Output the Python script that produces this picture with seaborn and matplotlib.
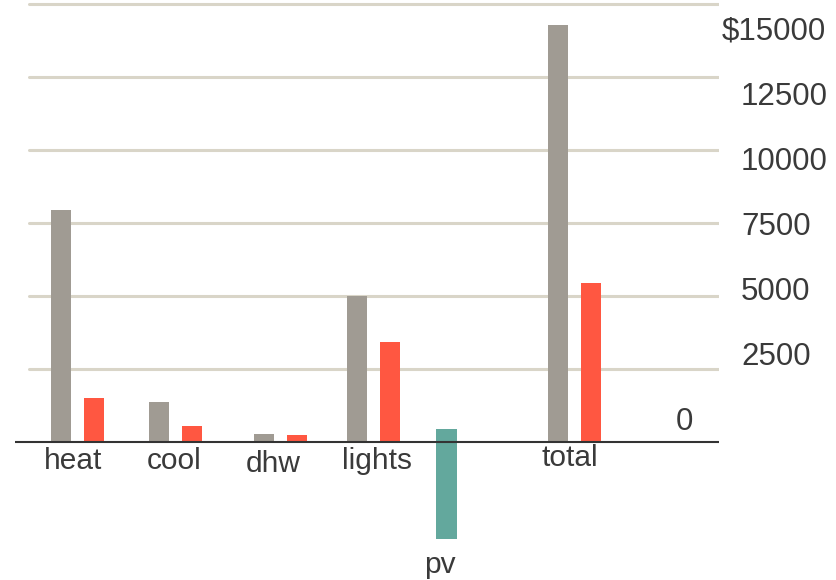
import numpy as np
import pandas as pd
import matplotlib
matplotlib.use("Agg")
import matplotlib.pyplot as plt
import seaborn as sns
from matplotlib.transforms import blended_transform_factory

# ---- data ----
categories = ["heat", "cool", "dhw", "lights", "total"]
baseline_cost = [7950, 1370, 275, 5000, 14280]
proposed_cost = [1500, 550, 240, 3425, 5455]
pv_label = "pv"
pv_top = 445
pv_bottom = -3320
grid_values = [2500, 5000, 7500, 10000, 12500, 15000]
tick_values = [0, 2500, 5000, 7500, 10000, 12500, 15000]
tick_labels = ["0", "2500", "5000", "7500", "10000", "12500", "$15000"]

# ---- layout (x in units of ~100 px) ----
group_x = [0.775, 1.755, 2.805, 3.735, 5.745]
pv_x = 4.465
offset = 0.165
bar_w = 0.20
label_x = [0.73, 1.745, 2.73, 3.77, 5.70]
label_base_px = [469, 469, 472, 469, 466]
pv_label_x = 4.40
pv_label_base_px = 573

GREY = "#a09b93"
RED = "#ff5741"
TEAL = "#63a89d"
GRID = "#d9d5c8"
TEXT = "#3a3a3a"

sns.set_theme(style="white")
plt.rcParams["font.family"] = ["Liberation Sans", "DejaVu Sans"]

W, H = 837, 580
fig = plt.figure(figsize=(W / 100, H / 100), dpi=100)
ax = fig.add_axes([15 / W, 0, 704 / W, 1])

# main scale: 0 at px 442, 2500 per 73 px
ppu = 73 / 2500
ax.set_ylim(-(H - 442) / ppu, 442 / ppu)
ax.set_xlim(0.15, 7.19)

df = pd.DataFrame({
    "x": [g - offset for g in group_x] + [g + offset for g in group_x],
    "value": baseline_cost + proposed_cost,
    "series": ["baseline"] * len(categories) + ["proposed"] * len(categories),
})
native = np.diff(np.unique(df["x"])).min()
sns.barplot(data=df, x="x", y="value", hue="series", orient="x",
            palette={"baseline": GREY, "proposed": RED},
            native_scale=True, dodge=False, width=bar_w / native,
            saturation=1, errorbar=None, legend=False, linewidth=0, ax=ax)

pv_df = pd.DataFrame({"x": [pv_x], "value": [pv_bottom - pv_top]})
n_before = len(ax.patches)
sns.barplot(data=pv_df, x="x", y="value", orient="x", color=TEAL,
            native_scale=True, width=0.21, saturation=1, errorbar=None,
            linewidth=0, ax=ax)
for p in ax.patches[n_before:]:
    p.set_y(pv_top)

ax.set_xlim(0.15, 7.19)
ax.set_ylim(-(H - 442) / ppu, 442 / ppu)

# gridlines and baseline
for v in grid_values:
    ax.axhline(v, xmin=(29 - 15) / 704, xmax=1, color=GRID, lw=2.2, zorder=0)
ax.axhline(0, xmin=0, xmax=1, color="#333333", lw=1.5, zorder=3)

for s in ax.spines.values():
    s.set_visible(False)
ax.set_xticks([])
ax.set_yticks([])
ax.set_xlabel("")
ax.set_ylabel("")
ax.patch.set_alpha(0)

# category labels
tr = blended_transform_factory(ax.transData, fig.transFigure)
for lx, lb, name in zip(label_x, label_base_px, categories):
    ax.text(lx, 1 - lb / H, name, transform=tr, ha="center", va="baseline",
            fontsize=21.5, color=TEXT)
ax.text(pv_label_x, 1 - pv_label_base_px / H, pv_label, transform=tr,
        ha="center", va="baseline", fontsize=21.5, color=TEXT)

# value labels on their own scale (0 at px 422, 15000 at px 32)
ax2 = ax.twinx()
lppu = 390 / 15000
ax2.set_ylim(-(H - 422) / lppu, 422 / lppu)
ax2.set_yticks([])
for s in ax2.spines.values():
    s.set_visible(False)
tr2 = blended_transform_factory(ax.transAxes, ax2.transData)
for v, lab in zip(tick_values, tick_labels):
    if lab == "0":
        xf = (676 - 15) / 704
    elif lab.startswith("$"):
        xf = (722 - 15) / 704
    else:
        xf = (741 - 15) / 704
    ax2.text(xf, v, lab, transform=tr2, ha="left", va="center",
             fontsize=22.5, color=TEXT, clip_on=False)

fig.savefig("out.png", dpi=100)
